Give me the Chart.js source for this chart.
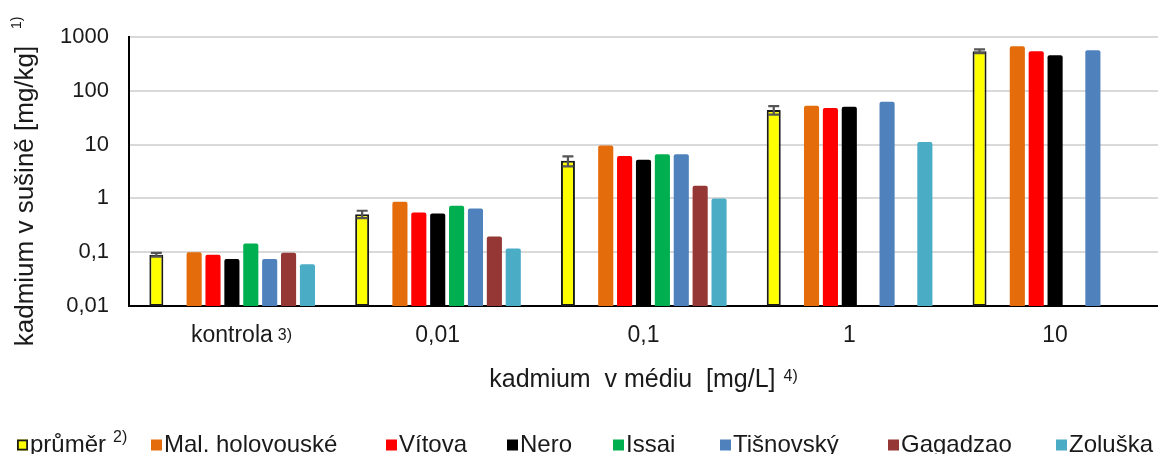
<!DOCTYPE html>
<html><head><meta charset="utf-8">
<script src="https://cdn.jsdelivr.net/npm/chart.js@4"></script>
<style>html,body{margin:0;padding:0;background:#fff;overflow:hidden}</style>
</head><body>
<canvas id="c" width="1158" height="454" style="display:block;width:1158px;height:454px"></canvas>
<script>
// ---- data ----
const categories = ['kontrola', '0,01', '0,1', '1', '10'];
const prumer        = [0.09, 0.51, 5.0, 44, 545];
const prumerErr     = [0.007, 0.08, 1.05, 8, 45];
const malHolovouske = [0.1, 0.865, 9.6, 52.7, 673];
const vitova        = [0.09, 0.548, 6.15, 47.8, 543];
const nero          = [0.075, 0.525, 5.25, 50.5, 457];
const issai         = [0.145, 0.728, 6.6, null, null];
const tisnovsky     = [0.075, 0.65, 6.6, 62.7, 567];
const gagadzao      = [0.098, 0.195, 1.72, null, null];
const zoluska       = [0.06, 0.117, 1.0, 11.2, null];
const yTickValues = [0.01, 0.1, 1, 10, 100, 1000];
const yTickLabels = ['0,01', '0,1', '1', '10', '100', '1000'];
const seriesNames = ['průměr', 'Mal. holovouské', 'Vítova', 'Nero', 'Issai', 'Tišnovský', 'Gagadzao', 'Zoluška'];
const yTitle = 'kadmium v sušině [mg/kg]';
const xTitle = 'kadmium  v médiu  [mg/L]';

const FONT = "'Liberation Sans', Arial, sans-serif";
const TXT = '#1a1a1a';
const colors = ['#FFFF00', '#E46C0A', '#FF0000', '#000000', '#00B050', '#4F81BD', '#953735', '#4BACC6'];
const cultivarData = [malHolovouske, vitova, nero, issai, tisnovsky, gagadzao, zoluska];

const datasets = [
  { label: seriesNames[0], data: prumer, backgroundColor: colors[0], borderColor: '#1a1a1a',
    borderWidth: 2, borderSkipped: false, barPercentage: 0.74 },
  { label: '', data: categories.map(() => null), backgroundColor: 'rgba(0,0,0,0)', spacer: true }
];
cultivarData.forEach((d, i) => datasets.push({
  label: seriesNames[i + 1], data: d, backgroundColor: colors[i + 1],
  borderWidth: 0, borderRadius: 2, barPercentage: 0.8
}));

const errorBars = {
  id: 'errorBars',
  afterDatasetsDraw(chart) {
    const ctx = chart.ctx, ys = chart.scales.y;
    const meta = chart.getDatasetMeta(0);
    ctx.save();
    ctx.strokeStyle = '#555555';
    ctx.lineWidth = 2.2;
    meta.data.forEach((bar, i) => {
      const v = prumer[i], e = prumerErr[i];
      if (v == null) return;
      const yt = ys.getPixelForValue(v + e), yb = ys.getPixelForValue(v - e);
      const x = bar.x, hw = 5.5;
      ctx.beginPath();
      ctx.moveTo(x, yb); ctx.lineTo(x, yt);
      ctx.moveTo(x - hw, yt); ctx.lineTo(x + hw, yt);
      ctx.moveTo(x - hw, yb); ctx.lineTo(x + hw, yb);
      ctx.stroke();
    });
    ctx.restore();
  }
};

const texts = {
  id: 'texts',
  afterDraw(chart) {
    const ctx = chart.ctx, ca = chart.chartArea, xs = chart.scales.x;
    ctx.save();
    ctx.fillStyle = TXT;
    ctx.textBaseline = 'alphabetic';

    // superscript after "kontrola"
    ctx.font = '23px ' + FONT;
    const kw = ctx.measureText(categories[0]).width;
    const kx = xs.getPixelForValue(0) + kw / 2 + 5;
    ctx.font = '16px ' + FONT;
    ctx.textAlign = 'left';
    ctx.fillText('3)', kx, 340);

    // x axis title
    ctx.font = '25px ' + FONT;
    const tw = ctx.measureText(xTitle).width;
    ctx.font = '16px ' + FONT;
    const sw = ctx.measureText('4)').width;
    const total = tw + 8 + sw;
    const x0 = (ca.left + ca.right) / 2 - total / 2;
    ctx.font = '25px ' + FONT;
    ctx.fillText(xTitle, x0, 387);
    ctx.font = '16px ' + FONT;
    ctx.fillText('4)', x0 + tw + 8, 381);

    // y axis title (rotated)
    ctx.save();
    ctx.translate(33, 196);
    ctx.rotate(-Math.PI / 2);
    ctx.font = '26px ' + FONT;
    ctx.textAlign = 'center';
    ctx.fillText(yTitle, 0, 0);
    ctx.restore();
    ctx.save();
    ctx.translate(21, 29);
    ctx.rotate(-Math.PI / 2);
    ctx.font = '14px ' + FONT;
    ctx.textAlign = 'left';
    ctx.fillText('1)', 0, 0);
    ctx.restore();

    // legend
    const boxX = [17, 151, 386, 507, 613, 720, 888, 1056];
    const bs = 11, by = 439.5, baseY = 451.5;
    ctx.font = '24px ' + FONT;
    ctx.textAlign = 'left';
    seriesNames.forEach((name, i) => {
      const bx = boxX[i];
      ctx.fillStyle = colors[i];
      ctx.fillRect(bx, by, bs, bs);
      if (i === 0) {
        ctx.strokeStyle = '#1a1a1a';
        ctx.lineWidth = 1.8;
        ctx.strokeRect(bx + 0.9, by + 0.9, bs - 1.8, bs - 1.8);
      }
      ctx.fillStyle = TXT;
      ctx.fillText(name, bx + 13, baseY);
      if (i === 0) {
        const w = ctx.measureText(name).width;
        ctx.font = '16px ' + FONT;
        ctx.fillText('2)', bx + 13 + w + 7, 441.5);
        ctx.font = '24px ' + FONT;
      }
    });
    ctx.restore();
  }
};

new Chart(document.getElementById('c'), {
  type: 'bar',
  data: { labels: categories, datasets },
  plugins: [errorBars, texts],
  options: {
    responsive: false,
    animation: false,
    events: [],
    layout: { padding: { top: 37, left: 0, right: 0, bottom: 0 } },
    datasets: { bar: { categoryPercentage: 0.826 } },
    plugins: { legend: { display: false }, tooltip: { enabled: false }, title: { display: false } },
    scales: {
      x: {
        grid: { display: false, drawTicks: false },
        border: { display: true, color: '#000', width: 2 },
        ticks: { font: { family: FONT, size: 23 }, color: TXT, padding: 16, maxRotation: 0 },
        afterFit(s) { s.height = 148; }
      },
      y: {
        type: 'logarithmic', min: 0.01, max: 1000,
        grid: { color: '#d9d9d9', lineWidth: 2, drawTicks: false },
        border: { display: true, color: '#000', width: 2 },
        ticks: { font: { family: FONT, size: 22 }, color: TXT, padding: 20, autoSkip: false,
                 callback: (v, i) => yTickLabels[i] },
        afterBuildTicks(s) { s.ticks = yTickValues.map(v => ({ value: v })); },
        afterFit(s) { s.width = 129; }
      }
    }
  }
});
</script>
</body></html>
